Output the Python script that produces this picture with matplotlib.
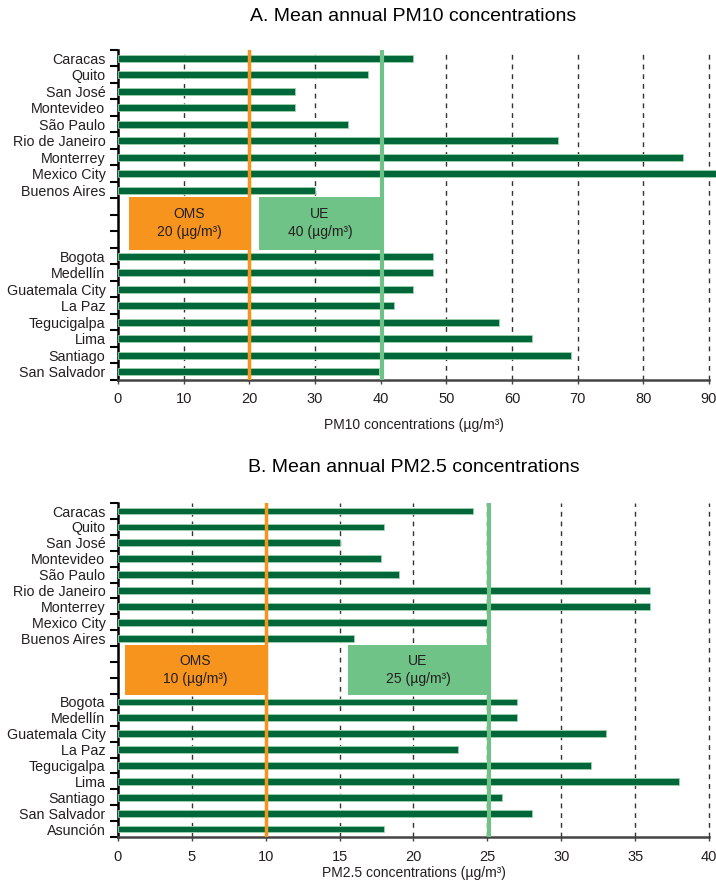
import matplotlib
matplotlib.use('Agg')
import matplotlib.pyplot as plt
import numpy as np

plt.rcParams['font.family'] = ['Liberation Sans', 'DejaVu Sans']

# data: top group / bottom group (gap of three empty rows between them)
pm10_top = ['Caracas', 'Quito', 'San José', 'Montevideo', 'São Paulo', 'Rio de Janeiro',
            'Monterrey', 'Mexico City', 'Buenos Aires']
pm10_top_vals = [45, 38, 27, 27, 35, 67, 86, 92, 30]
pm10_bot = ['Bogota', 'Medellín', 'Guatemala City', 'La Paz', 'Tegucigalpa', 'Lima',
            'Santiago', 'San Salvador']
pm10_bot_vals = [48, 48, 45, 42, 58, 63, 69, 39.7]

pm25_top = ['Caracas', 'Quito', 'San José', 'Montevideo', 'São Paulo', 'Rio de Janeiro',
            'Monterrey', 'Mexico City', 'Buenos Aires']
pm25_top_vals = [24, 18, 15, 17.8, 19, 36, 36, 25, 16]
pm25_bot = ['Bogota', 'Medellín', 'Guatemala City', 'La Paz', 'Tegucigalpa', 'Lima',
            'Santiago', 'San Salvador', 'Asunción']
pm25_bot_vals = [27, 27, 33, 23, 32, 38, 26, 28, 18]

# guideline values (OMS, UE)
pm10_limits = [20, 40]
pm25_limits = [10, 25]

BAR = '#00673a'
EDGE = '#9fd3ac'
ORANGE = '#f7941d'
LGREEN = '#70c387'
TXT = '#231f20'


def panel(ax, top, top_vals, bot, bot_vals, limits, box_lefts, xmax, xstep, title, xlabel,
          tpad, lpad):
    labels = top + ['', '', ''] + bot
    vals = top_vals + [0, 0, 0] + bot_vals
    n = len(labels)
    y = np.arange(n)
    for yi, v, lab in zip(y, vals, labels):
        if lab:
            ax.barh(yi, v, height=0.42, color=BAR, edgecolor=EDGE, linewidth=0.6,
                    zorder=3, clip_on=False)
    ax.set_ylim(n - 0.5, -0.5)
    ax.set_xlim(0, xmax)
    ax.set_yticks(y)
    ax.set_yticklabels(labels, fontsize=10.3, color=TXT)
    ax.set_yticks(np.arange(n + 1) - 0.5, minor=True)
    ax.tick_params(axis='y', which='major', length=0, pad=9)
    ax.tick_params(axis='y', which='minor', length=6, width=1.5, color='black')
    xt = np.arange(0, xmax + 0.01, xstep)
    ax.set_xticks(xt)
    ax.set_xticklabels([f'{int(t)}' for t in xt], fontsize=10.5, color=TXT)
    ax.tick_params(axis='x', length=3, width=1, color='#444444', pad=6)
    for t in xt[1:]:
        ax.axvline(t, color='#333333', lw=1, ls=(0, (3.5, 3.5)), zorder=1, clip_on=False)
    for s in ['top', 'right']:
        ax.spines[s].set_visible(False)
    ax.spines['left'].set_linewidth(1.8)
    ax.spines['left'].set_color('black')
    ax.spines['bottom'].set_linewidth(1.8)
    ax.spines['bottom'].set_color('#444444')

    # guideline boxes over the gap rows
    gy = len(top) + 1
    names = ['OMS', 'UE']
    cols = [ORANGE, LGREEN]
    for name, lim, left, c in zip(names, limits, box_lefts, cols):
        ax.barh(gy, lim - left, left=left, height=3.2, color=c, zorder=4)
        ax.text((left + lim) / 2, gy, f'{name}\n{lim} (µg/m³)', ha='center', va='center',
                fontsize=10, color=TXT, linespacing=1.4, zorder=5)
    ax.axvline(limits[0], color=ORANGE, lw=2.5, zorder=6)
    ax.axvline(limits[1] + xmax * 0.003, color=LGREEN, lw=3, zorder=6)

    ax.set_title(title, fontsize=14, color='black', pad=tpad)
    ax.set_xlabel(xlabel, fontsize=10, color=TXT, labelpad=lpad)


fig = plt.figure(figsize=(7.16, 8.81), dpi=100)
ax1 = fig.add_axes([0.1648, 0.5687, 0.8254, 0.3746])
ax2 = fig.add_axes([0.1648, 0.0499, 0.8254, 0.3791])

panel(ax1, pm10_top, pm10_top_vals, pm10_bot, pm10_bot_vals, pm10_limits, [1.7, 21.5],
      90, 10, 'A. Mean annual PM10 concentrations', 'PM10 concentrations (µg/m³)', 21, 8)
panel(ax2, pm25_top, pm25_top_vals, pm25_bot, pm25_bot_vals, pm25_limits, [0.5, 15.6],
      40, 5, 'B. Mean annual PM2.5 concentrations', 'PM2.5 concentrations (µg/m³)', 22, 2)

fig.savefig('out.png', dpi=100)
